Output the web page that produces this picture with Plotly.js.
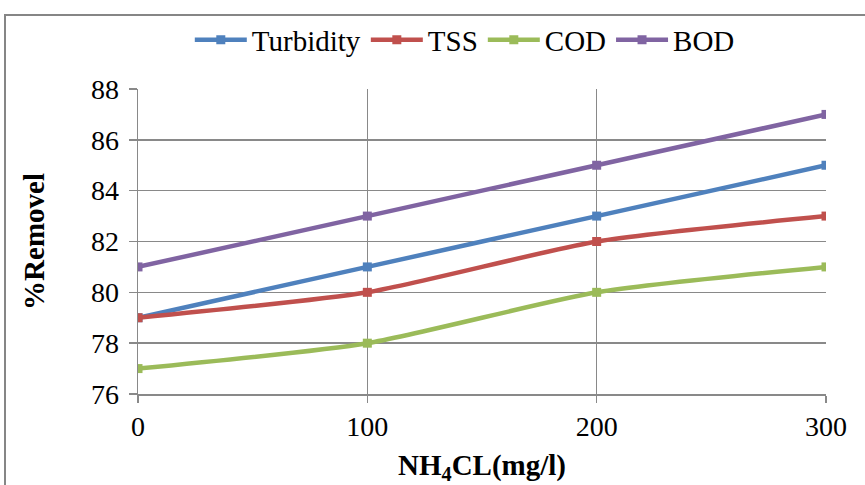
<!DOCTYPE html>
<html><head><meta charset="utf-8">
<script src="https://cdn.plot.ly/plotly-3.0.1.min.js"></script>
<style>html,body{margin:0;padding:0;background:#fff}#c{width:865px;height:485px}</style>
</head><body><div id="c"></div>
<script>
const dose = [0, 100, 200, 300];
const turbidity = [79, 81, 83, 85];
const tss = [79, 80, 82, 83];
const cod = [77, 78, 80, 81];
const bod = [81, 83, 85, 87];
const names = ["Turbidity", "TSS", "COD", "BOD"];
const colors = ["#4F81BD", "#C0504D", "#9BBB59", "#8064A2"];
const series = [turbidity, tss, cod, bod];

const traces = series.map((s, i) => ({
  x: dose, y: s, name: names[i], type: "scatter", mode: "lines+markers",
  line: {color: colors[i], width: 4.5, shape: "spline", smoothing: 0.6},
  marker: {symbol: "square", size: 9, color: colors[i]}
}));

const FAM = "Liberation Serif";
const f = (size) => ({family: FAM, size: size, color: "#000"});
const L = 138, R = 826, T = 89, B = 394, W = R - L, H = B - T;
const layout = {
  width: 865, height: 485,
  margin: {l: L, r: 865 - R, t: T, b: 485 - B, autoexpand: false},
  paper_bgcolor: "#fff", plot_bgcolor: "#fff",
  font: f(28),
  showlegend: true,
  legend: {orientation: "h", x: 0.475, xanchor: "center", y: 1 + (T - 40) / H, yanchor: "middle",
           bgcolor: "rgba(0,0,0,0)", font: f(29), tracegroupgap: 0, itemwidth: 52},
  xaxis: {range: [0, 300], tickvals: dose, ticktext: ["0", "100", "200", "300"],
          showgrid: true, gridcolor: "#898989", gridwidth: 1.5,
          showline: true, linecolor: "#898989", linewidth: 1.5,
          ticks: "outside", ticklen: 7, tickcolor: "#898989", tickwidth: 1.5,
          zeroline: false, tickfont: f(28),
          title: {text: "<b>NH<sub>4</sub>CL(mg/l)</b>", font: f(29), standoff: 14}},
  yaxis: {range: [76, 88], dtick: 2, showgrid: true, gridcolor: "#898989", gridwidth: 1.5,
          showline: true, linecolor: "#898989", linewidth: 1.5,
          ticks: "outside", ticklen: 8, tickcolor: "#898989", tickwidth: 1.5,
          ticklabelstandoff: 4,
          zeroline: false, tickfont: f(28),
          title: {text: "<b>%Removel</b>", font: f(29), standoff: 38}},
  shapes: [{type: "rect", xref: "paper", yref: "paper",
            x0: (5 - L) / W, x1: (870 - L) / W, y0: -(490 - B) / H, y1: 1 + (T - 15) / H,
            line: {color: "#868686", width: 2}, fillcolor: "rgba(0,0,0,0)", layer: "below"}]
};
Plotly.newPlot("c", traces, layout, {displayModeBar: false, staticPlot: true});
</script></body></html>
